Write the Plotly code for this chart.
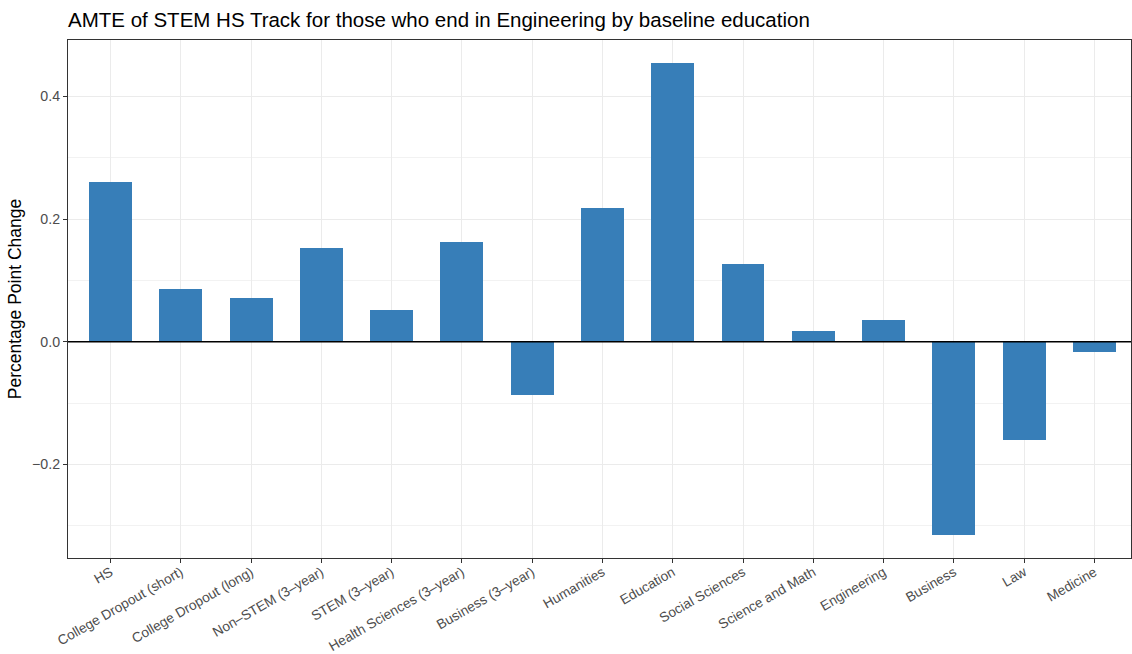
import plotly.graph_objects as go

categories = ["HS", "College Dropout (short)", "College Dropout (long)", "Non\u2013STEM (3\u2013year)",
              "STEM (3\u2013year)", "Health Sciences (3\u2013year)", "Business (3\u2013year)", "Humanities",
              "Education", "Social Sciences", "Science and Math", "Engineering", "Business", "Law", "Medicine"]
values = [0.260, 0.086, 0.071, 0.153, 0.052, 0.163, -0.087, 0.218, 0.454, 0.127, 0.018, 0.036, -0.315, -0.161, -0.016]
ytick_vals = [-0.2, 0.0, 0.2, 0.4]
ytick_text = ["\u22120.2", "0.0", "0.2", "0.4"]

fig = go.Figure()
fig.add_trace(go.Bar(x=list(range(len(categories))), y=values, width=0.61,
                     marker=dict(color="#377EB8", line=dict(width=0))))

fig.add_hline(y=0, line=dict(color="black", width=1.5))

fig.update_layout(
    width=1132, height=654,
    margin=dict(l=68, r=1, t=40, b=96, autoexpand=False),
    paper_bgcolor="white", plot_bgcolor="white",
    font=dict(family="Liberation Sans, Arial, sans-serif", color="#4D4D4D", size=13),
    title=dict(text="AMTE of STEM HS Track for those who end in Engineering by baseline education",
               x=68 / 1132, xanchor="left", y=1 - 20 / 654, yanchor="middle",
               font=dict(size=20.5, color="black")),
    showlegend=False,
    bargap=0,
)
fig.update_xaxes(
    range=[-0.605, 14.52],
    tickmode="array", tickvals=list(range(len(categories))), ticktext=categories,
    tickangle=-30, ticks="outside", ticklen=4, tickcolor="#333333",
    showgrid=True, gridcolor="#EBEBEB", gridwidth=1,
    showline=True, linecolor="#333333", linewidth=1.2, mirror=True,
    tickfont=dict(size=13.7, color="#4D4D4D"), zeroline=False, automargin=False,
    ticklabelstandoff=-4,
)
fig.update_yaxes(
    range=[-0.3526, 0.492],
    tickmode="array", tickvals=ytick_vals, ticktext=ytick_text,
    ticks="outside", ticklen=4, tickcolor="#333333",
    showgrid=True, gridcolor="#EBEBEB", gridwidth=1,
    minor=dict(tickmode="array", tickvals=[-0.3, -0.1, 0.1, 0.3], showgrid=True,
               gridcolor="#F2F2F2", gridwidth=0.7, ticks=""),
    showline=True, linecolor="#333333", linewidth=1.2, mirror=True,
    zeroline=False, automargin=False,
    tickfont=dict(size=14.2, color="#4D4D4D"),
    title=dict(text="Percentage Point Change", font=dict(size=17.5, color="black"), standoff=5),
)

fig.write_html("out.html", config={"displayModeBar": False},
               post_script="document.body.style.margin='0';document.body.style.overflow='hidden';")
